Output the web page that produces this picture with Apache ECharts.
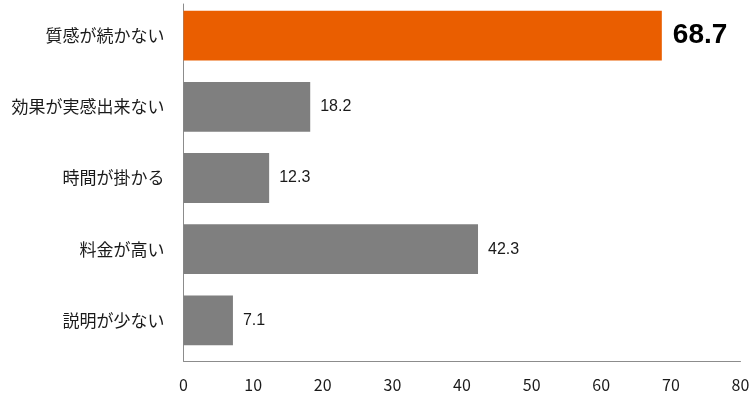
<!DOCTYPE html>
<html>
<head>
<meta charset="utf-8">
<script src="https://cdn.jsdelivr.net/npm/echarts@6/dist/echarts.min.js"></script>
<style>
  html, body { margin: 0; padding: 0; background: #fff; }
  #chart { width: 755px; height: 398px; }
</style>
</head>
<body>
<div id="chart"></div>
<script>
// 回答項目（上から順）
var categories = ['質感が続かない', '効果が実感出来ない', '時間が掛かる', '料金が高い', '説明が少ない'];
var values = [68.7, 18.2, 12.3, 42.3, 7.1];
var highlightIndex = 0;
var xMin = 0, xMax = 80, xStep = 10;

var orange = '#EA5E00';
var gray = '#7F7F7F';
var lineColor = '#8C8C8C';
var font = '"Noto Sans CJK JP", "Noto Sans", sans-serif';

var chart = echarts.init(document.getElementById('chart'));

var barData = values.map(function (v, i) {
    if (i === highlightIndex) {
        return {
            value: v,
            itemStyle: { color: orange },
            label: { fontSize: 28, fontWeight: 'bold', color: '#000', distance: 11 }
        };
    }
    return { value: v };
});

var option = {
    animation: false,
    backgroundColor: '#fff',
    grid: [
        // bars
        { left: 183.5, right: 14.5, top: -1, height: 357 },
        // axis frame
        { left: 183.5, right: 14.5, top: 4, height: 357 }
    ],
    xAxis: [
        {
            gridIndex: 0, type: 'value', min: xMin, max: xMax, interval: xStep,
            show: false
        },
        {
            gridIndex: 1, type: 'value', min: xMin, max: xMax, interval: xStep,
            axisLine: { show: true, lineStyle: { color: lineColor, width: 1 } },
            axisTick: { show: false },
            splitLine: { show: false },
            axisLabel: { color: '#1a1a1a', fontSize: 16, fontFamily: font, margin: 16 }
        }
    ],
    yAxis: [
        {
            gridIndex: 0, type: 'category', data: categories, inverse: true,
            axisLine: { show: false },
            axisTick: { show: false },
            axisLabel: { color: '#1a1a1a', fontSize: 17, fontFamily: font, margin: 19 }
        },
        {
            gridIndex: 1, type: 'value', min: 0, max: 1,
            axisLine: { show: true, lineStyle: { color: lineColor, width: 1 } },
            axisTick: { show: false },
            axisLabel: { show: false },
            splitLine: { show: false }
        }
    ],
    series: [
        {
            type: 'bar',
            xAxisIndex: 0,
            yAxisIndex: 0,
            data: barData,
            barCategoryGap: '30%',
            itemStyle: { color: gray },
            label: {
                show: true,
                position: 'right',
                distance: 10,
                color: '#1a1a1a',
                fontSize: 16,
                fontFamily: '"Liberation Sans", Arial, sans-serif'
            }
        }
    ]
};

chart.setOption(option);
</script>
</body>
</html>
